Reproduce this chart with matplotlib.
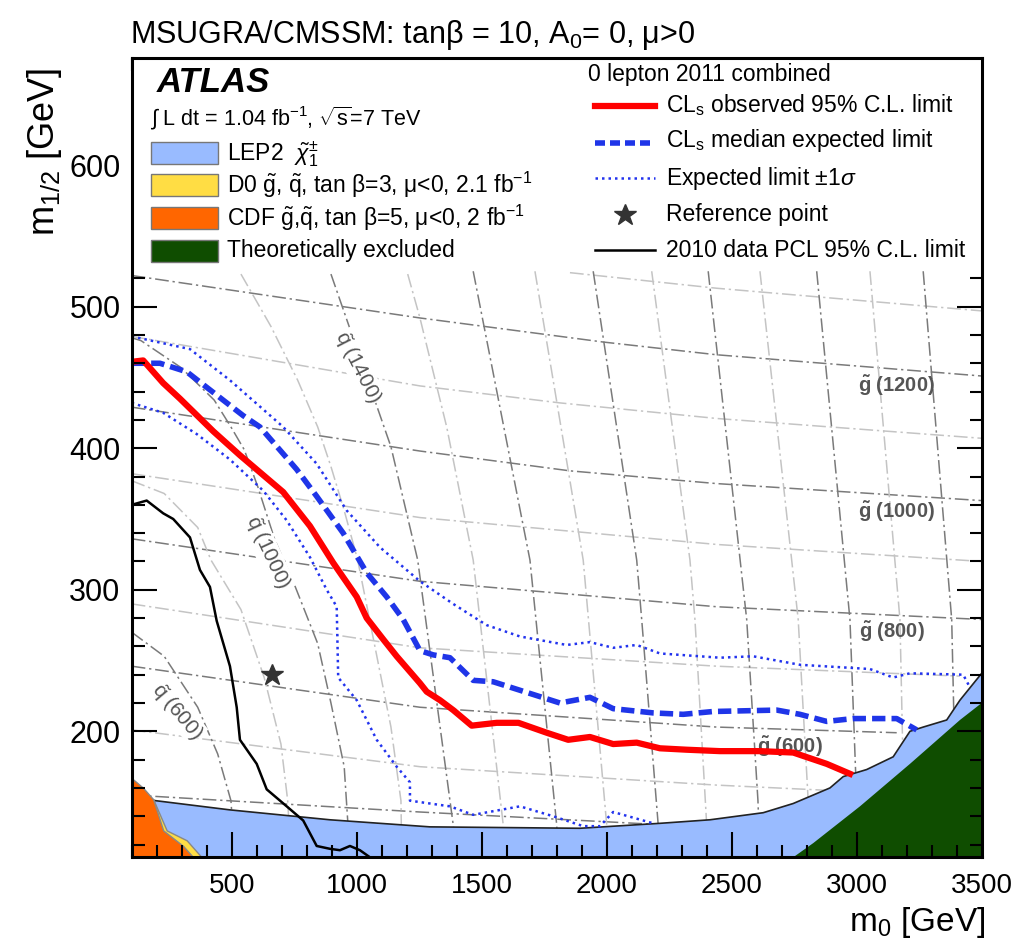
import matplotlib.pyplot as plt
from matplotlib.ticker import MultipleLocator
from matplotlib.patches import Rectangle

plt.rcParams['font.family'] = ['Liberation Sans', 'DejaVu Sans']
plt.rcParams['mathtext.fontset'] = 'custom'
plt.rcParams['mathtext.rm'] = 'Liberation Sans'
plt.rcParams['mathtext.it'] = 'Liberation Sans:italic'
plt.rcParams['mathtext.bf'] = 'Liberation Sans:bold'
plt.rcParams['mathtext.sf'] = 'Liberation Sans'

# CLs observed limit (m0, m1/2) in GeV
obs_x = [100, 146, 226, 293, 426, 533, 706, 813, 906, 1000, 1040, 1106, 1160, 1253, 1280, 1333, 1386, 1460,
         1560, 1647, 1760, 1846, 1933, 2026, 2120, 2213, 2320, 2453, 2613, 2746, 2880, 2973]
obs_y = [461, 462, 446, 435, 412, 395, 369, 345, 319, 295, 280, 265, 253, 234, 228, 222, 215, 204,
         206, 206, 199, 194, 196, 191, 192, 188, 187, 186, 186, 185, 177, 170]
# median expected
exp_x = [100, 213, 320, 400, 546, 613, 760, 840, 946, 1040, 1120, 1186, 1253, 1306, 1373, 1466, 1546, 1653,
         1813, 1933, 2026, 2186, 2306, 2426, 2680, 2773, 2880, 2986, 3160, 3240]
exp_y = [460, 460, 454, 443, 423, 415, 385, 366, 340, 312, 295, 279, 257, 254, 252, 236, 235, 229,
         220, 224, 216, 213, 212, 214, 215, 212, 207, 209, 209, 201]
# expected +-1 sigma band edges
up_x = [100, 333, 493, 706, 840, 960, 1093, 1253, 1386, 1520, 1653, 1840, 1933, 2026, 2120, 2213, 2453,
        2586, 2773, 3053, 3146, 3213, 3426, 3453]
up_y = [479, 470, 448, 415, 389, 356, 330, 306, 290, 275, 267, 261, 263, 259, 261, 255, 252,
        253, 247, 244, 238, 241, 240, 231]
low_x = [100, 226, 360, 493, 626, 720, 813, 880, 920, 926, 1000, 1080, 1160, 1213, 1213, 1253, 1373, 1466,
         1653, 1786, 1906, 1973, 2026, 2186]
low_y = [432, 425, 410, 392, 370, 349, 323, 300, 288, 238, 222, 194, 175, 164, 151, 150, 147, 141,
         147, 140, 133, 133, 143, 135]
# 2010 PCL limit
pcl_x = [100, 160, 226, 266, 333, 373, 413, 440, 493, 520, 533, 600, 640, 720, 786, 840, 893, 933, 973, 1013, 1053]
pcl_y = [360, 363, 354, 350, 337, 314, 302, 278, 246, 217, 194, 177, 159, 147, 137, 119, 117, 116, 119, 116, 111]

# excluded regions
lep_x = [100, 173, 493, 893, 1293, 1893, 2213, 2413, 2626, 2746, 2893, 2946, 3040, 3146, 3213, 3266, 3360, 3413, 3500]
lep_y = [152, 151.5, 144.5, 137.5, 132.5, 131.5, 135, 137.5, 142.5, 149, 160, 168, 173, 182, 200, 203, 208, 222, 241]
th_x = [2746, 2826, 3013, 3213, 3413, 3500]
th_y = [111, 121, 147, 177, 208, 220]
cdf_x = [100, 106, 146, 186, 226, 306, 346]
cdf_y = [166, 166, 160, 152, 130, 119, 111]
d0_x = [100, 186, 240, 320, 380]
d0_y = [158, 152, 130, 123, 111]

ref_m0 = 660
ref_m12 = 240

# iso-mass lines
gl_mass = [1300, 1200, 1100, 1000, 900, 800, 700, 600, 500, 400]
gl_x = [[1853, 2440, 3500], [100, 1253, 1986, 2440, 3500], [100, 1253, 1813, 2440, 3500],
        [100, 1253, 1853, 2440, 3500], [100, 1253, 2440, 3500], [100, 1253, 2440, 3500],
        [100, 1253, 2440, 3413], [100, 1253, 2440, 3160], [100, 1253, 2440, 2920], [100, 1253, 2440, 3500]]
gl_y = [[524, 513, 497], [522, 492, 475, 466, 451], [479, 444, 432, 421, 407],
        [429, 398, 384, 375, 363], [382, 351, 332, 320], [336, 306, 288, 279],
        [290, 259, 246, 239], [246, 217, 203, 199], [201, 175, 162, 158], [155, 143, 132, 127]]

sq_mass = [600, 800, 1000, 1200, 1400, 1600, 1800, 2000, 2200, 2400, 2600, 2800, 3000, 3200, 3400]
sq_x = [[100, 230, 364, 444, 497, 510],
        [100, 230, 364, 417, 537, 630, 697, 724, 735],
        [100, 137, 297, 430, 497, 550, 604, 673, 750, 844, 897, 950, 964, 968],
        [537, 657, 764, 844, 897, 950, 1004, 1084, 1137, 1177, 1180],
        [897, 1137, 1244, 1386, 1395],
        [1204, 1253, 1360, 1466, 1586, 1592],
        [1466, 1693, 1800, 1805],
        [1713, 1906, 2000, 2005],
        [1946, 2120, 2140, 2206, 2210],
        [2180, 2333, 2353, 2400, 2405],
        [2406, 2560, 2605, 2612],
        [2613, 2766, 2806, 2812],
        [2840, 2973, 3000, 3005],
        [3053, 3173, 3185, 3190],
        [3266, 3380, 3390, 3395]]
sq_y = [[270, 253, 217, 184, 151, 116],
        [377, 368, 344, 321, 286, 238, 191, 151, 116],
        [478, 476, 457, 434, 415, 399, 373, 335, 304, 262, 220, 175, 137, 116],
        [523, 486, 448, 415, 387, 356, 321, 250, 203, 151, 116],
        [523, 401, 321, 134, 116],
        [523, 492, 415, 321, 134, 116],
        [525, 321, 134, 116],
        [525, 321, 134, 116],
        [525, 321, 279, 134, 116],
        [525, 321, 279, 134, 116],
        [525, 279, 151, 116],
        [525, 279, 151, 116],
        [525, 279, 151, 116],
        [525, 279, 180, 116],
        [525, 279, 200, 116]]

fig = plt.figure(figsize=(10.34, 9.41), dpi=100)
ax = fig.add_axes([131.7 / 1034, 1 - 857.3 / 941, 850 / 1034, 799.8 / 941])

cont_ls = (0, (9, 2.5, 1.5, 2.5))
for m, xs, ys in zip(gl_mass, gl_x, gl_y):
    col = '#7a7a7a' if m % 200 == 0 else '#c4c4c4'
    ax.plot(xs, ys, color=col, lw=1.1, ls=cont_ls, zorder=1)
for m, xs, ys in zip(sq_mass, sq_x, sq_y):
    col = '#7a7a7a' if m % 400 == 200 else '#c4c4c4'
    ax.plot(xs, ys, color=col, lw=1.1, ls=cont_ls, zorder=1)

lab_kw = dict(color='#555555', ha='center', va='center', zorder=1.5)
ax.text(3161, 444, r'$\mathbf{\tilde{g}}$ (1200)', fontsize=14.5, fontweight='bold', **lab_kw)
ax.text(3160, 355, r'$\mathbf{\tilde{g}}$ (1000)', fontsize=14.5, fontweight='bold', **lab_kw)
ax.text(3140, 270, r'$\mathbf{\tilde{g}}$ (800)', fontsize=14.5, fontweight='bold', **lab_kw)
ax.text(2733, 189, r'$\mathbf{\tilde{g}}$ (600)', fontsize=14.5, fontweight='bold', **lab_kw)
box = dict(facecolor='white', edgecolor='none', pad=0.5)
ax.text(1004, 457, r'$\tilde{\mathrm{q}}$ (1400)', fontsize=15, rotation=-63, bbox=box, **lab_kw)
ax.text(644, 326, r'$\tilde{\mathrm{q}}$ (1000)', fontsize=15, rotation=-65, bbox=box, **lab_kw)
ax.text(281, 214, r'$\tilde{\mathrm{q}}$ (600)', fontsize=15, rotation=-50, bbox=box, **lab_kw)

ax.fill_between(lep_x, 100, lep_y, facecolor='#99bbff', edgecolor='none', zorder=2)
ax.plot(lep_x, lep_y, color='#222222', lw=1.2, zorder=2.05)
ax.fill_between(th_x, 100, th_y, facecolor='#0f4d00', edgecolor='none', zorder=2.1)
ax.fill_between(d0_x, 100, d0_y, facecolor='#ffdd44', edgecolor='#888888', lw=1, zorder=2.2)
ax.fill_between(cdf_x, 100, cdf_y, facecolor='#ff6600', edgecolor='#888888', lw=1, zorder=2.3)

ax.plot(low_x, low_y, color='#2233ee', lw=1.8, ls=(0, (1, 1.6)), zorder=3)
ax.plot(up_x, up_y, color='#2233ee', lw=1.8, ls=(0, (1, 1.6)), zorder=3)
ax.plot(pcl_x, pcl_y, color='black', lw=1.8, zorder=3)
ax.plot(exp_x, exp_y, color='#1f35e8', lw=4, ls=(0, (2.4, 1.1)), zorder=3.5)
ax.plot(obs_x, obs_y, color='red', lw=4.5, zorder=4)
ax.plot([ref_m0], [ref_m12], marker='*', ms=16.5, color='#333333', ls='none', zorder=4)

# legend area is blanked out
ax.add_patch(Rectangle((100, 525), 3400, 300, facecolor='white', edgecolor='none', zorder=5))

ax.set_xlim(100, 3500)
ax.set_ylim(111, 676)
ax.xaxis.set_major_locator(MultipleLocator(500))
ax.xaxis.set_minor_locator(MultipleLocator(100))
ax.yaxis.set_major_locator(MultipleLocator(100))
ax.yaxis.set_minor_locator(MultipleLocator(20))
ax.tick_params(which='both', direction='in', top=True, right=True, width=1.5)
ax.tick_params(which='major', length=18)
ax.tick_params(which='minor', length=9)
ax.tick_params(axis='x', labelsize=20, pad=11)
ax.tick_params(axis='y', labelsize=22, pad=8)
ax.xaxis.set_zorder(4.5)
ax.yaxis.set_zorder(4.5)
for s in ax.spines.values():
    s.set_linewidth(2.2)
    s.set_zorder(6)

# overlay in pixel coordinates for titles and legends
lax = fig.add_axes([0, 0, 1, 1])
lax.set_xlim(0, 1034)
lax.set_ylim(941, 0)
lax.axis('off')

lax.text(130, 43, r'MSUGRA/CMSSM: tan$\mathrm{\beta}$ = 10, A$_0$= 0, $\mathrm{\mu}$>0', fontsize=22, va='baseline')
lax.text(45, 152, r'm$_{1/2}$ [GeV]', rotation=90, fontsize=26, ha='center', va='center')
lax.text(985, 931, r'm$_0$ [GeV]', ha='right', va='baseline', fontsize=24)

lax.text(157, 91.7, 'ATLAS', fontsize=25, fontweight='bold', fontstyle='italic', va='baseline')
lax.text(150, 125, r'$\int$ L dt = 1.04 fb$^{-1}$, $\sqrt{\mathrm{s}}$=7 TeV', fontsize=15.5, va='baseline')

left_labels = [r'LEP2  $\tilde{\chi}_1^{\pm}$',
               r'D0 $\tilde{\mathrm{g}}$, $\tilde{\mathrm{q}}$, tan $\mathrm{\beta}$=3, $\mathrm{\mu}$<0, 2.1 fb$^{-1}$',
               r'CDF $\tilde{\mathrm{g}}$,$\tilde{\mathrm{q}}$, tan $\mathrm{\beta}$=5, $\mathrm{\mu}$<0, 2 fb$^{-1}$',
               'Theoretically excluded']
left_colors = ['#99bbff', '#ffdd44', '#ff6600', '#0f4d00']
left_top = [141.7, 174, 206.7, 240]
left_base = [160, 193.3, 225.7, 257.3]
for lab, c, t, b in zip(left_labels, left_colors, left_top, left_base):
    lax.add_patch(Rectangle((150.7, t), 67.6, 22, facecolor=c, edgecolor='#777777', lw=1))
    lax.text(227, b, lab, fontsize=16.5, va='baseline')

lax.text(588, 81, '0 lepton 2011 combined', fontsize=16.5, va='baseline')
lax.plot([595, 655], [106, 106], color='red', lw=4.5)
lax.plot([595, 655], [142.5, 142.5], color='#1f35e8', lw=4, ls=(0, (1.8, 0.9)))
lax.plot([595, 655], [178, 178], color='#2233ee', lw=1.8, ls=(0, (1, 1.6)))
lax.plot([625], [215], marker='*', ms=16.5, color='#333333', ls='none')
lax.plot([595, 655], [250, 250], color='black', lw=1.8)
right_labels = [r'CL$_\mathrm{s}$ observed 95% C.L. limit', r'CL$_\mathrm{s}$ median expected limit',
                r'Expected limit $\pm$1$\sigma$', 'Reference point', '2010 data PCL 95% C.L. limit']
right_base = [111.7, 147.3, 185, 220.7, 257.3]
for lab, b in zip(right_labels, right_base):
    lax.text(666, b, lab, fontsize=16.5, va='baseline')

plt.savefig('out.png', dpi=100)
